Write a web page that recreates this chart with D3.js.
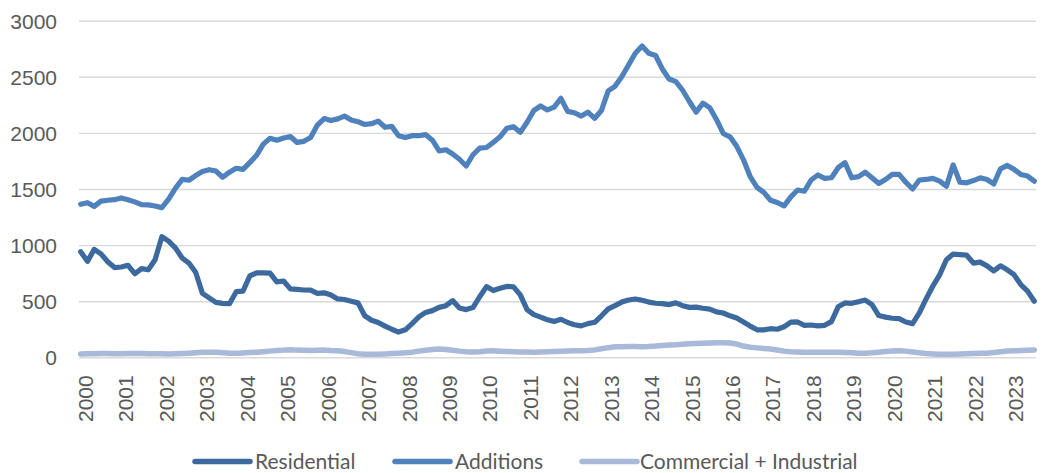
<!DOCTYPE html>
<html>
<head>
<meta charset="utf-8">
<script src="https://cdn.jsdelivr.net/npm/d3@7"></script>
<style>
  body { margin: 0; background: #fff; }
  svg { display: block; font-family: Lato, "Open Sans", sans-serif; }
  .grid line { stroke: #d9d9d9; stroke-width: 1.4; }
  .tick text { fill: #595959; font-size: 21px; }
  .legend text { fill: #595959; font-size: 21px; }
</style>
</head>
<body>
<div id="chart"></div>
<script>
// bi-monthly samples, Jan 2000 .. Aug 2023
const firstYear = 2000;
const totalMonths = 284;
const yTicks = [0, 500, 1000, 1500, 2000, 2500, 3000];
const seriesNames = ["Residential", "Additions", "Commercial + Industrial"];
const seriesColors = ["#3d6a9e", "#4f81bd", "#a9b9d9"];

const residential = [
  941, 855, 962, 922, 852, 800, 805, 820, 745, 790, 780, 870,
  1075, 1035, 975, 885, 840, 758, 570, 530, 490, 481, 478, 585,
  590, 725, 752, 753, 750, 672, 680, 610, 605, 600, 598, 570,
  575, 555, 520, 515, 500, 485, 370, 330, 310, 278, 250, 225,
  245, 300, 360, 400, 416, 445, 460, 505, 440, 425, 443, 540,
  630, 595, 615, 632, 628, 556, 425, 380, 358, 335, 320, 339,
  310, 290, 280, 300, 312, 370, 431, 461, 492, 511, 520, 508,
  492, 482, 478, 470, 485, 460, 445, 447, 437, 430, 405, 395,
  370, 350, 315, 278, 245, 244, 255, 250, 272, 314, 315, 285,
  288, 280, 285, 318, 450, 485, 481, 496, 510, 470, 372, 358,
  348, 345, 315, 300, 395, 520, 635, 735, 870, 920, 915, 910,
  840, 848, 815, 770, 815, 780, 736, 648, 590, 500
];

const additions = [
  1364, 1378, 1345, 1392, 1400, 1405, 1420, 1405, 1385, 1360, 1358, 1348,
  1334, 1410, 1506, 1586, 1578, 1620, 1655, 1672, 1660, 1605, 1650, 1685,
  1675, 1735, 1800, 1900, 1952, 1935, 1955, 1968, 1915, 1925, 1960, 2070,
  2128, 2110, 2125, 2150, 2115, 2100, 2075, 2082, 2105, 2050, 2058, 1975,
  1958, 1975, 1975, 1985, 1935, 1840, 1850, 1812, 1765, 1705, 1805, 1865,
  1870, 1915, 1965, 2041, 2055, 2005, 2095, 2200, 2240, 2205, 2230, 2308,
  2192, 2180, 2150, 2185, 2130, 2200, 2375, 2415, 2501, 2605, 2710, 2775,
  2709, 2690, 2570, 2480, 2457, 2380, 2280, 2185, 2265, 2225, 2120, 1995,
  1965, 1880, 1760, 1610, 1515, 1470, 1400, 1380, 1350, 1430, 1491, 1480,
  1580, 1625, 1595, 1600, 1690, 1735, 1600, 1610, 1649, 1600, 1550, 1585,
  1630, 1630, 1560, 1500, 1580, 1585, 1595, 1570, 1525, 1715, 1560, 1555,
  1575, 1600, 1585, 1545, 1680, 1710, 1675, 1630, 1615, 1570
];

const commercial = [
  30, 31, 32, 33, 33, 32, 32, 33, 33, 33, 32, 32,
  31, 30, 31, 33, 36, 40, 44, 46, 44, 40, 36, 35,
  38, 42, 46, 50, 55, 60, 64, 68, 64, 62, 60, 62,
  64, 60, 58, 52, 42, 32, 28, 27, 28, 30, 33, 36,
  40, 46, 55, 62, 70, 74, 70, 62, 55, 50, 47, 50,
  56, 58, 55, 52, 50, 48, 47, 46, 48, 50, 52, 54,
  56, 58, 58, 60, 66, 76, 86, 94, 95, 96, 96, 95,
  96, 100, 106, 110, 112, 116, 120, 124, 126, 128, 130, 130,
  128, 118, 100, 89, 84, 78, 74, 65, 55, 50, 47, 45,
  45, 45, 46, 45, 44, 42, 40, 37, 36, 40, 46, 52,
  57, 59, 55, 48, 40, 34, 30, 27, 27, 28, 30, 31,
  33, 35, 37, 42, 50, 56, 58, 60, 62, 65
];

const W = 1042, H = 473;
const plot = { left: 79, right: 1036, top: 20.7, bottom: 357.3 };

const svg = d3.select("#chart").append("svg")
  .attr("width", W)
  .attr("height", H);

const catW = (plot.right - plot.left) / totalMonths;
const x = d3.scaleLinear()
  .domain([0, totalMonths - 1])
  .range([plot.left + catW / 2, plot.right - catW / 2]);

const y = d3.scaleLinear()
  .domain([0, 3000])
  .range([plot.bottom, plot.top]);

// gridlines + y labels
const yAxis = d3.axisLeft(y)
  .tickValues(yTicks)
  .tickFormat(d3.format("d"))
  .tickSize(-(plot.right - plot.left))
  .tickPadding(22);

svg.append("g")
  .attr("class", "grid")
  .attr("transform", `translate(${plot.left},0)`)
  .call(yAxis)
  .call(g => g.select(".domain").remove())
  .selectAll("text")
  .attr("dy", "0.35em");

// year labels, rotated
const yearTicks = d3.range(0, totalMonths, 12);
const xAxis = d3.axisBottom(x)
  .tickValues(yearTicks)
  .tickSize(0)
  .tickFormat(m => firstYear + m / 12);

svg.append("g")
  .attr("class", "xaxis")
  .attr("transform", `translate(0,${plot.bottom})`)
  .call(xAxis)
  .call(g => g.select(".domain").remove())
  .selectAll("text")
  .attr("transform", "rotate(-90)")
  .attr("x", -18)
  .attr("y", 4.5)
  .attr("dy", "0.35em")
  .style("text-anchor", "end");

// lines
const allSeries = [residential, additions, commercial];
const line = d3.line()
  .x((d, i, arr) => x(i * (totalMonths - 1) / (arr.length - 1)))
  .y(d => y(d));

// commercial first so the darker lines sit on top
[2, 1, 0].forEach(s => {
  svg.append("path")
    .datum(allSeries[s])
    .attr("fill", "none")
    .attr("stroke", seriesColors[s])
    .attr("stroke-width", s === 2 ? 5.5 : 5.2)
    .attr("stroke-linejoin", "round")
    .attr("stroke-linecap", "round")
    .attr("d", line);
});

// legend
const legendItems = [
  { x0: 195, tx: 255 },
  { x0: 395, tx: 455 },
  { x0: 582, tx: 640 },
];
const legend = svg.append("g").attr("class", "legend");
legendItems.forEach((p, i) => {
  legend.append("line")
    .attr("x1", p.x0)
    .attr("x2", p.x0 + 55)
    .attr("y1", 461.5)
    .attr("y2", 461.5)
    .attr("stroke", seriesColors[i])
    .attr("stroke-width", 5.5)
    .attr("stroke-linecap", "round");
  legend.append("text")
    .attr("x", p.tx)
    .attr("y", 461.5)
    .attr("dy", "0.35em")
    .text(seriesNames[i]);
});
</script>
</body>
</html>
